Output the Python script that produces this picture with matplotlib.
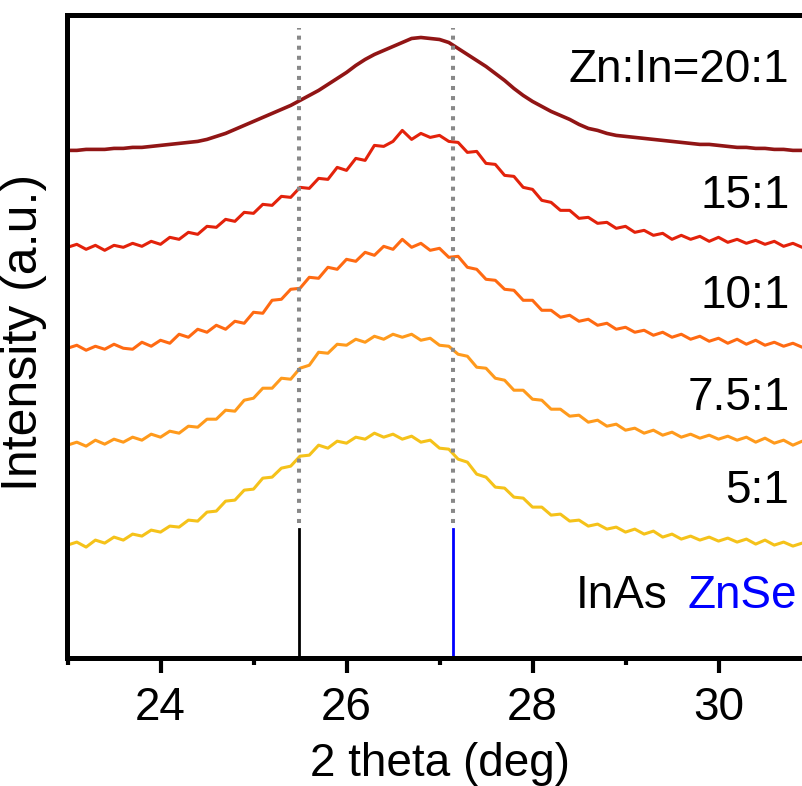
import numpy as np
import matplotlib
matplotlib.use('Agg')
import matplotlib.pyplot as plt
from matplotlib.ticker import MultipleLocator

plt.rcParams['font.family'] = ['Liberation Sans', 'DejaVu Sans']


# <============DATA============>#

two_theta = np.round(np.arange(23.0, 31.01, 0.1), 2)

i_20 = [510, 510, 511, 511, 511, 512, 512, 513, 513, 514,
        515, 516, 517, 518, 519, 521, 524, 527, 531, 535,
        539, 543, 547, 551, 555, 560, 565, 570, 576, 582,
        588, 595, 601, 606, 610, 614, 618, 622, 623, 622,
        621, 618, 612, 606, 600, 594, 587, 580, 572, 565,
        559, 554, 549, 545, 541, 536, 532, 530, 527, 525,
        524, 523, 522, 521, 520, 519, 518, 517, 516, 516,
        515, 514, 513, 513, 512, 512, 511, 511, 510, 510, 510]
i_15 = [413, 416, 411, 415, 410, 415, 413, 417, 414, 419,
        416, 423, 421, 428, 426, 434, 433, 441, 439, 448,
        447, 456, 455, 464, 463, 473, 472, 482, 481, 493,
        490, 502, 500, 515, 514, 519, 530, 521, 527, 523,
        525, 519, 518, 508, 509, 497, 496, 485, 484, 473,
        471, 460, 458, 450, 450, 442, 443, 437, 438, 432,
        434, 428, 430, 425, 427, 421, 425, 421, 424, 419,
        423, 418, 421, 417, 420, 416, 419, 414, 417, 413, 416]
i_10 = [312, 315, 310, 314, 311, 316, 312, 311, 318, 314,
        320, 317, 326, 323, 331, 328, 335, 331, 339, 337,
        348, 347, 360, 361, 371, 372, 383, 382, 393, 391,
        401, 399, 408, 405, 414, 411, 421, 413, 417, 410,
        412, 403, 404, 393, 391, 381, 380, 371, 370, 360,
        360, 350, 350, 343, 345, 339, 341, 335, 337, 331,
        333, 328, 330, 325, 328, 323, 326, 321, 324, 319,
        322, 317, 321, 316, 320, 315, 318, 314, 317, 313, 316]
i_75 = [215, 218, 214, 220, 216, 221, 218, 223, 220, 226,
        223, 229, 227, 234, 233, 241, 241, 250, 249, 260,
        262, 272, 272, 282, 281, 292, 295, 308, 307, 316,
        315, 321, 318, 324, 321, 326, 323, 326, 320, 322,
        315, 314, 306, 304, 293, 292, 282, 280, 270, 270,
        261, 260, 251, 251, 244, 245, 238, 240, 234, 236,
        230, 232, 227, 230, 225, 228, 223, 226, 222, 225,
        221, 224, 220, 223, 218, 222, 217, 220, 215, 219, 216]
i_5 = [115, 118, 113, 120, 117, 123, 120, 126, 124, 130,
       128, 134, 133, 140, 139, 148, 149, 159, 160, 170,
       171, 182, 183, 192, 194, 204, 205, 215, 212, 219,
       217, 223, 221, 227, 223, 226, 221, 224, 218, 220,
       212, 211, 201, 198, 186, 183, 173, 172, 163, 162,
       153, 153, 145, 146, 139, 140, 134, 136, 131, 133,
       128, 131, 126, 129, 123, 126, 121, 124, 120, 123,
       119, 122, 118, 121, 116, 120, 115, 118, 114, 117, 114]

series = [i_20, i_15, i_10, i_75, i_5]
labels = ['Zn:In=20:1', '15:1', '10:1', '7.5:1', '5:1']
label_y = [578, 452, 352, 250, 157]
colors = ['#911515', '#E3220B', '#FF6A12', '#FF9A1C', '#F5C21A']
widths = [2.6, 2.2, 2.2, 2.2, 2.2]

# reference peak positions (deg)
inas_pos = 25.49
znse_pos = 27.14
stick_height = 131
guide_range = (137, 632)


# <============PLOTING============>#

fig = plt.figure(figsize=(8.03, 7.86), dpi=100)
ax = fig.add_axes([67.5 / 803, 128 / 786, 744 / 803, 643.5 / 786])

for y, c, w in zip(series, colors, widths):
    ax.plot(two_theta, y, color=c, lw=w)

for pos in (inas_pos, znse_pos):
    ax.plot([pos, pos], guide_range, color='#888888', lw=2.9,
            linestyle=(0, (1, 1.5)))

ax.plot([inas_pos, inas_pos], [0, stick_height], color='black', lw=2)
ax.plot([znse_pos, znse_pos], [0, stick_height], color='#0000FF', lw=2)

for lab, ly in zip(labels, label_y):
    ax.text(30.763, ly, lab, ha='right', va='baseline', fontsize=33)
ax.text(29.452, 52, 'InAs', ha='right', va='baseline', fontsize=33,
        color='black')
ax.text(30.849, 52, 'ZnSe', ha='right', va='baseline', fontsize=33,
        color='#0000FF')

ax.set_xlim(23, 31)
ax.set_ylim(2, 646)
ax.xaxis.set_major_locator(MultipleLocator(2))
ax.xaxis.set_minor_locator(MultipleLocator(1))
ax.tick_params(axis='x', which='major', direction='out', length=11,
               width=3, labelsize=33, pad=9)
ax.tick_params(axis='x', which='minor', direction='out', length=5, width=3)
ax.set_yticks([])
ax.spines['right'].set_visible(False)
for s in ('left', 'top', 'bottom'):
    ax.spines[s].set_linewidth(3.6)

fig.text(24 / 803, 1 - 332 / 786, 'Intensity (a.u.)', rotation=90,
         ha='center', va='center', fontsize=36)
fig.text(440 / 803, 1 - 776 / 786, '2 theta (deg)', ha='center',
         va='baseline', fontsize=33)

fig.savefig('out.png', dpi=100)
